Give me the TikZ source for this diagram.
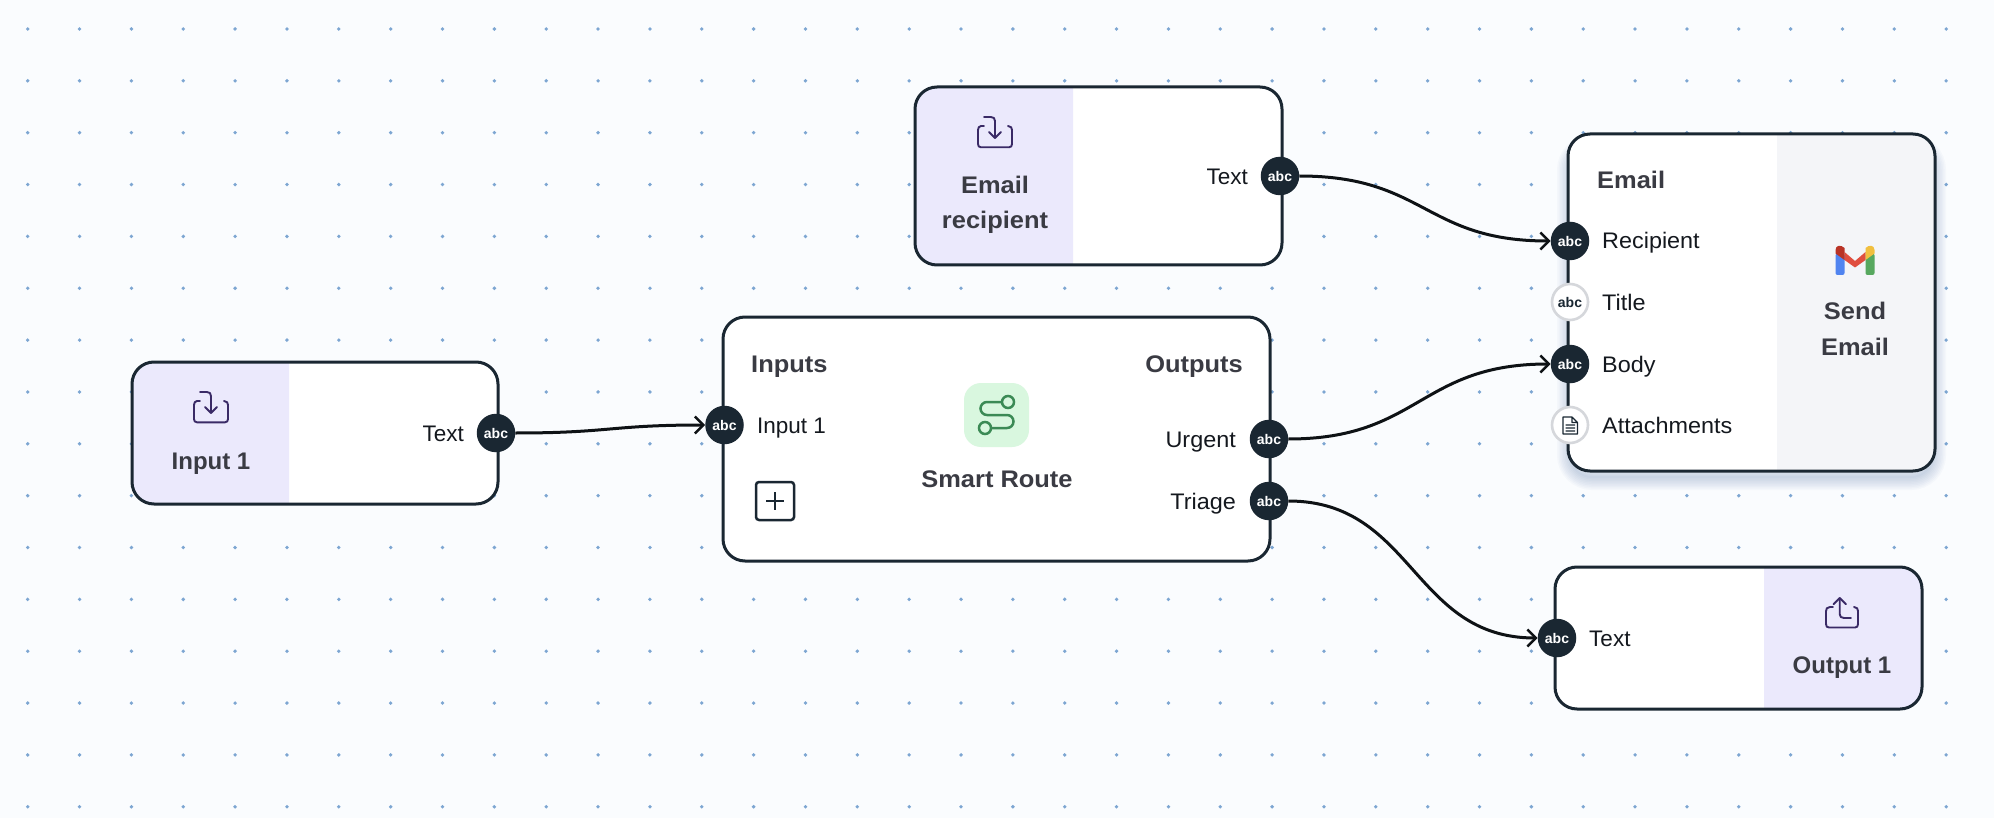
\documentclass[tikz,border=0pt]{standalone}
\usepackage{fontspec}
\setmainfont{Liberation Sans}
\newfontfamily\ttlfont[FakeStretch=1.06]{Liberation Sans}
\newfontfamily\lblfont[FakeStretch=1.04]{Liberation Sans}
\usetikzlibrary{arrows.meta}
\definecolor{ink}{HTML}{1A2732}
\definecolor{wirec}{HTML}{0E1215}
\definecolor{bgc}{HTML}{FAFCFE}
\definecolor{dotc}{HTML}{7DA6D2}
\definecolor{panelc}{HTML}{EBE9FC}
\definecolor{grayp}{HTML}{F4F5F8}
\definecolor{titlec}{HTML}{3A3B43}
\definecolor{textc}{HTML}{14181E}
\definecolor{iconc}{HTML}{3A2A66}
\definecolor{ringc}{HTML}{D5D7DB}
\definecolor{routebg}{HTML}{D9F7DF}
\definecolor{routeln}{HTML}{3B8A55}
\definecolor{shadowc}{HTML}{5A7AB0}
\tikzset{
  x=1pt,y=-1pt,
  border/.style={draw=ink,line width=3pt,rounded corners=22pt,minimum width=#1,inner sep=0pt},
  port/.style={circle,fill=ink,minimum size=38.5pt,inner sep=0pt,text=white,font=\fontsize{14}{14}\selectfont\bfseries},
  lightport/.style={circle,fill=white,draw=ringc,line width=2.6pt,minimum size=36pt,inner sep=0pt,text=ink,font=\fontsize{14}{14}\selectfont\bfseries},
  lbl/.style={text=textc,inner sep=0pt,text height=16pt,text depth=0pt,font=\lblfont\fontsize{22.5}{27}\selectfont},
  lblplain/.style={lbl,font=\fontsize{22.5}{27}\selectfont},
  ttl/.style={text=titlec,inner sep=0pt,text height=17pt,text depth=0pt,font=\ttlfont\fontsize{24}{35.5}\selectfont\bfseries},
  ttlplain/.style={ttl,font=\fontsize{24}{35.5}\selectfont\bfseries},
  ttlm/.style={text=titlec,inner sep=0pt,align=center,font=\ttlfont\fontsize{24}{35.5}\selectfont\bfseries},
  wire/.style={draw=wirec,line width=3pt,-{Straight Barb[length=8.5pt,width=17pt,line width=2.4pt]}},
  ico/.style={draw=iconc,line width=1.9pt,line cap=round,line join=round},
}
\newcommand{\inicon}[2]{%
  \draw[ico,shift={(#1,#2)}] (-11,-7) -- (-14,-7) .. controls (-16,-7) and (-17,-5) .. (-17,-3) -- (-17,11) .. controls (-17,13) and (-16,14.3) .. (-14,14.3) -- (14,14.3) .. controls (16,14.3) and (17,13) .. (17,11) -- (17,-3) .. controls (17,-5) and (16,-7) .. (13,-7);
  \draw[ico,shift={(#1,#2)}] (-11,-16) -- (-4,-16) .. controls (-1.5,-16) and (0,-14.5) .. (0,-12) -- (0,5);
  \draw[ico,shift={(#1,#2)}] (-6,-1) -- (0,5) -- (6,-1);
}
\begin{document}
\begin{tikzpicture}
\useasboundingbox (0,0) rectangle (1994,818);
\fill[bgc] (0,0) rectangle (1994,818);
% dotted grid
\foreach \i in {0,...,37}{\foreach \j in {0,...,15}{
  \fill[dotc] ({27.7+51.85*\i},{29+51.85*\j}) circle[radius=1.9pt];
}}
% ---- Input 1 box
\fill[white,rounded corners=22pt] (132,362) rectangle (498,504);
\fill[panelc] (289,362) [rounded corners=22pt] -- (132,362) -- (132,504) [sharp corners] -- (289,504) -- cycle;
\node[border=366pt,minimum height=142pt] (inputbox) at (315,433) {};
\inicon{211}{408}
\node[ttlplain] (inputtitle) at (211,461) {Input 1};
\node[lblplain,anchor=east] (inputtext) at (464,433) {Text};
\node[port] (inputport) at (496,433) {abc};
% ---- Smart Route box
\fill[white,rounded corners=22pt] (723,317) rectangle (1270,561);
\node[border=547pt,minimum height=244pt] (routebox) at (996.5,439) {};
\node[ttl,anchor=west] (routeinputs) at (751,364) {Inputs};
\node[ttl,anchor=east] (routeoutputs) at (1243,364) {Outputs};
\node[lblplain,anchor=west] (routeinlbl) at (757,425) {Input 1};
\node[lbl,anchor=east] (urgentlbl) at (1236,439) {Urgent};
\node[lbl,anchor=east] (triagelbl) at (1236,501) {Triage};
\node[fill=routebg,rounded corners=17pt,minimum width=65pt,minimum height=64pt,inner sep=0pt] (routeicon) at (996.5,415) {};
\draw[routeln,line width=2.5pt] (1002,402) -- (987,402) arc[start angle=90,end angle=270,radius=6.5pt] -- (1007,415) arc[start angle=90,end angle=-90,radius=6.5pt] -- (991,428);
\draw[routeln,line width=2.5pt] (1008,402) circle[radius=6pt];
\draw[routeln,line width=2.5pt] (985,428) circle[radius=6pt];
\node[ttl] (routetitle) at (997,479) {Smart Route};
\node[draw=ink,line width=2.5pt,rounded corners=3pt,minimum size=38pt,inner sep=0pt] (addbox) at (775,501) {};
\draw[ink,line width=2.3pt] (766,501) -- (784,501) (775,492) -- (775,510);
\node[port] (routein) at (724.5,425) {abc};
\node[port] (urgent) at (1269,439) {abc};
\node[port] (triage) at (1269,501) {abc};
% ---- Email recipient box
\fill[white,rounded corners=22pt] (915,87) rectangle (1282,265);
\fill[panelc] (1073,87) [rounded corners=22pt] -- (915,87) -- (915,265) [sharp corners] -- (1073,265) -- cycle;
\node[border=367pt,minimum height=178pt] (recipbox) at (1098.5,176) {};
\inicon{995}{133}
\node[ttlm] (reciptitle) at (995,205) {Email\\recipient};
\node[lblplain,anchor=east] (reciptext) at (1248,176.5) {Text};
\node[port] (recipport) at (1280,176) {abc};
% ---- Send Email box with soft shadow
\foreach \w in {2,5,...,26}{
  \draw[shadowc,opacity=0.035,line width=\w pt,rounded corners=22pt] (1570,148) rectangle (1933,477);
}
\fill[white,rounded corners=22pt] (1568,134) rectangle (1935,471);
\fill[grayp] (1777,134) [rounded corners=22pt] -- (1935,134) -- (1935,471) [sharp corners] -- (1777,471) -- cycle;
\node[border=367pt,minimum height=337pt] (emailbox) at (1751.5,302.5) {};
\node[ttl,anchor=west] (emailhead) at (1597,180) {Email};
\node[lbl,anchor=west] (l1) at (1602,241) {Recipient};
\node[lbl,anchor=west] (l2) at (1602,302) {Title};
\node[lbl,anchor=west] (l3) at (1602,364) {Body};
\node[lbl,anchor=west] (l4) at (1602,425) {Attachments};
\node[port] (erecip) at (1570,241) {abc};
\node[lightport] (etitle) at (1570,302) {abc};
\node[port] (ebody) at (1570,364) {abc};
\node[lightport] (eattach) at (1570,425) {};
\draw[ink,line width=1.1pt,line join=round] (1563,417) -- (1572,417) -- (1577.5,422.5) -- (1577.5,434) -- (1563,434) -- cycle (1572,417) -- (1572,422.5) -- (1577.5,422.5) (1565.5,425) -- (1575,425) (1565.5,428) -- (1575,428) (1565.5,431) -- (1575,431);
% Gmail logo
\begin{scope}[shift={(1855,260)}]
\fill[fill={rgb,255:red,80;green,132;blue,240},rounded corners=2pt] (-19.5,-6.5) rectangle (-10.5,15);
\fill[fill={rgb,255:red,87;green,168;blue,95},rounded corners=2pt] (10.5,-6.5) rectangle (19.5,15);
\fill[fill={rgb,255:red,224;green,78;blue,63}] (-10.5,-8) -- (0,1) -- (10.5,-8) -- (10.5,0) -- (0,7.5) -- (-10.5,0) -- cycle;
\fill[fill={rgb,255:red,185;green,51;blue,38}] (-10.5,-8) -- (-10.5,0) -- (-19.5,-6.5) -- (-19.5,-10) .. controls (-19.5,-15) and (-14,-15.5) .. (-10.5,-12) -- cycle;
\fill[fill={rgb,255:red,241;green,191;blue,63}] (10.5,-8) -- (10.5,0) -- (19.5,-6.5) -- (19.5,-10) .. controls (19.5,-15) and (14,-15.5) .. (10.5,-12) -- cycle;
\end{scope}
\node[ttlm] (sendtitle) at (1855,329) {Send\\Email};
% ---- Output box
\fill[white,rounded corners=22pt] (1555,567) rectangle (1922,709);
\fill[panelc] (1764,567) [rounded corners=22pt] -- (1922,567) -- (1922,709) [sharp corners] -- (1764,709) -- cycle;
\node[border=367pt,minimum height=142pt] (outbox) at (1738.5,638) {};
\draw[ico,shift={(1842,613)}] (-9,-6) -- (-12,-6) .. controls (-15,-6) and (-16,-4) .. (-16,-2) -- (-16,11) .. controls (-16,13.5) and (-15,14.5) .. (-13,14.5) -- (13,14.5) .. controls (15,14.5) and (16,13.5) .. (16,11) -- (16,-2) .. controls (16,-4) and (15,-6) .. (12,-6);
\draw[ico,shift={(1842,613)}] (-2.3,-15) -- (-2.3,1) .. controls (-2.3,3.5) and (-1,5) .. (2,5) -- (9,5);
\draw[ico,shift={(1842,613)}] (-8.5,-8.8) -- (-2.3,-15) -- (3.9,-8.8);
\node[ttlplain] (outtitle) at (1842,664.5) {Output 1};
\node[lblplain,anchor=west] (outtext) at (1589,638) {Text};
\node[port] (outport) at (1557,638) {abc};
% ---- Connectors
\draw[wire] (inputport.east) .. controls +(95,0) and +(-95,0) .. (routein.west);
\draw[wire] (recipport.east) .. controls +(126,0) and +(-126,0) .. (erecip.west);
\draw[wire] (urgent.east) .. controls +(131,0) and +(-131,0) .. (ebody.west);
\draw[wire] (triage.east) .. controls +(125,0) and +(-125,0) .. (outport.west);
\end{tikzpicture}
\end{document}
